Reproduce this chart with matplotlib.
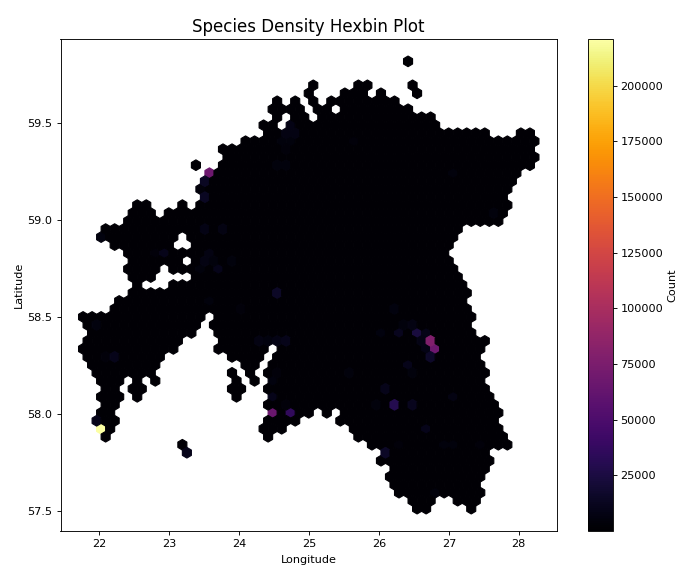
import numpy as np
import matplotlib
matplotlib.use('Agg')
import matplotlib.pyplot as plt

# data bounds of the records
lon_range = (21.765, 28.225)
lat_range = (57.512, 59.815)
grid_size = 50
grid_rows = 28

# occupied hexagons: half-row (from the south) -> runs of column numbers
occupied = {
    56: [(36, 36)],
    53: [(25, 25), (30, 31), (36, 36)],
    52: [(25, 25), (29, 31), (33, 33), (37, 37)],
    51: [(21, 21), (23, 23), (25, 25), (27, 34)],
    50: [(21, 24), (26, 27), (29, 36)],
    49: [(21, 21), (23, 24), (26, 38)],
    48: [(20, 21), (23, 39)],
    47: [(20, 44), (48, 49)],
    46: [(18, 50)],
    45: [(15, 49)],
    44: [(16, 50)],
    43: [(12, 12), (15, 49)],
    42: [(14, 48)],
    41: [(13, 47)],
    40: [(13, 47)],
    39: [(13, 46)],
    38: [(6, 7), (11, 11), (13, 47)],
    37: [(5, 7), (9, 46)],
    36: [(5, 46)],
    35: [(2, 41)],
    34: [(2, 10), (12, 41)],
    33: [(3, 9), (12, 40)],
    32: [(5, 40)],
    31: [(5, 10), (12, 40)],
    30: [(5, 8), (10, 41)],
    29: [(5, 7), (12, 41)],
    28: [(6, 6), (10, 42)],
    27: [(5, 42)],
    26: [(4, 42)],
    25: [(3, 42)],
    24: [(0, 13), (15, 43)],
    23: [(0, 12), (14, 42)],
    22: [(1, 12), (15, 43)],
    21: [(0, 10), (15, 44)],
    20: [(0, 10), (15, 20), (22, 44)],
    19: [(0, 8), (16, 19), (21, 43)],
    18: [(1, 8), (18, 19), (21, 44)],
    17: [(1, 7), (16, 16), (18, 18), (20, 44)],
    16: [(2, 4), (6, 6), (8, 8), (17, 17), (19, 19), (21, 44)],
    15: [(2, 3), (5, 6), (16, 17), (20, 44)],
    14: [(2, 4), (6, 6), (17, 17), (21, 45)],
    13: [(2, 3), (20, 45)],
    12: [(2, 3), (21, 25), (27, 27), (29, 46)],
    11: [(1, 3), (20, 23), (28, 45)],
    10: [(2, 3), (20, 22), (30, 46)],
    9: [(2, 2), (20, 20), (30, 46)],
    8: [(11, 11), (32, 47)],
    7: [(11, 11), (33, 44)],
    6: [(33, 45)],
    5: [(34, 44)],
    4: [(34, 44)],
    3: [(34, 43)],
    2: [(35, 44)],
    1: [(36, 38), (41, 43)],
    0: [(37, 38), (43, 43)],
}
base_count = 1000

# hexagons that stand out from the rest: (half-row, column, count)
hot_cells = [
    (56, 36, 1), (10, 2, 221000), (42, 14, 68000), (12, 21, 66000),
    (12, 23, 36000), (21, 38, 78000), (20, 39, 68000), (13, 34, 30000),
    (22, 37, 24000), (22, 35, 12000), (22, 33, 6000), (22, 38, 9000),
    (25, 34, 6000), (23, 36, 7000), (23, 35, 5000), (21, 37, 8000),
    (20, 38, 8000), (19, 38, 16000), (18, 36, 10000), (17, 36, 5000),
    (17, 29, 5000), (15, 33, 10000), (13, 36, 12000), (13, 32, 5000),
    (14, 41, 7000), (10, 38, 10000), (7, 33, 15000), (2, 39, 5000),
    (8, 35, 4000), (8, 40, 5000), (8, 41, 5000), (8, 44, 3500),
    (27, 21, 15000), (26, 14, 5000), (23, 1, 6000), (11, 1, 10000),
    (19, 3, 10000), (19, 2, 4000), (7, 11, 10000), (16, 21, 6000),
    (14, 21, 10000), (21, 19, 7000), (21, 20, 6000), (21, 21, 8000),
    (21, 22, 10000), (17, 21, 3500), (13, 22, 4000), (25, 17, 4000),
    (41, 13, 13000), (39, 13, 13000), (40, 13, 3500), (35, 13, 8000),
    (35, 15, 7000), (32, 14, 7000), (31, 13, 7000), (31, 14, 5000),
    (30, 15, 10000), (30, 13, 5000), (31, 16, 5000), (32, 9, 10000),
    (32, 8, 3500), (34, 2, 6000), (48, 23, 8000), (47, 22, 7000),
    (47, 23, 7000), (46, 22, 5000), (46, 23, 5000), (45, 22, 4000),
    (43, 21, 5000), (43, 22, 5000), (42, 41, 5000), (37, 45, 5000),
    (46, 30, 3500),
]

dlon = (lon_range[1] - lon_range[0]) / grid_size
dlat = (lat_range[1] - lat_range[0]) / grid_rows

counts = {}
for row, runs in occupied.items():
    for first, last in runs:
        for col in range(first, last + 1):
            counts[(row, col)] = base_count
for row, col, value in hot_cells:
    counts[(row, col)] = value

lons = []
lats = []
values = []
for (row, col), value in counts.items():
    # odd half-rows sit on the shifted lattice
    shift = 0.5 if row % 2 else 0.0
    lons.append(lon_range[0] + (col + shift) * dlon)
    lats.append(lat_range[0] + row * dlat / 2)
    values.append(value)

dpi = 81
fig = plt.figure(figsize=(695 / dpi, 580 / dpi), dpi=dpi)
ax = fig.add_axes([60.5 / 695, 1 - 531 / 580, (557 - 60.5) / 695, (531 - 39) / 580])
cax = fig.add_axes([588 / 695, 1 - 531 / 580, 24.5 / 695, (531 - 39) / 580])

hb = ax.hexbin(lons, lats, C=values, gridsize=grid_size, cmap='inferno',
               reduce_C_function=np.sum,
               extent=(lon_range[0], lon_range[1], lat_range[0], lat_range[1]))
cb = fig.colorbar(hb, cax=cax)
cb.set_label('Count')

ax.set_title('Species Density Hexbin Plot', fontsize=14.8)
ax.set_xlabel('Longitude', labelpad=5.5)
ax.set_ylabel('Latitude', labelpad=3)

fig.savefig('out.png', dpi=dpi)
